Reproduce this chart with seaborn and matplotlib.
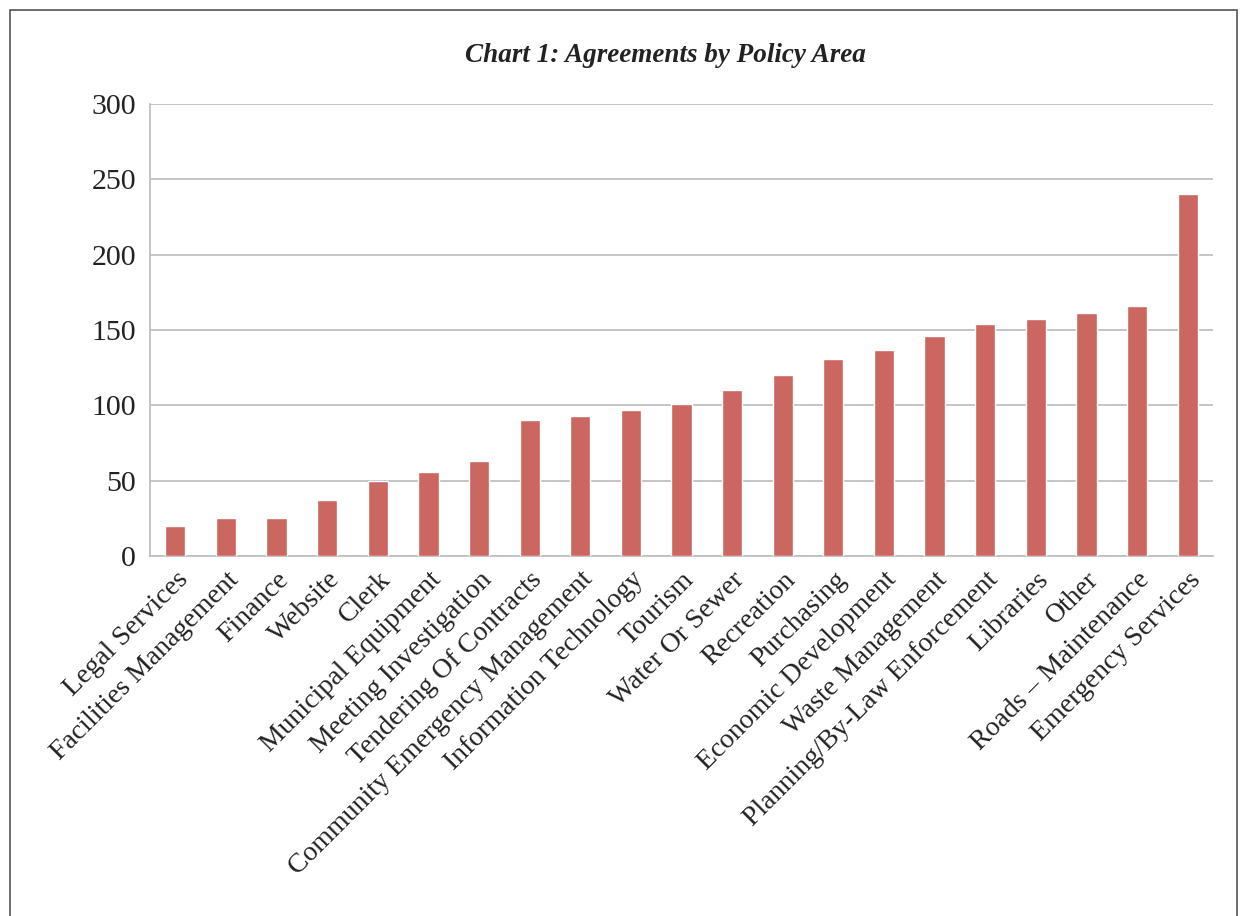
import pandas as pd
import numpy as np
from matplotlib import pyplot as plt
import matplotlib.patches as mpatches
import seaborn as sns

categories = ['Legal Services', 'Facilities Management', 'Finance', 'Website', 'Clerk',
              'Municipal Equipment', 'Meeting Investigation', 'Tendering Of Contracts',
              'Community Emergency Management', 'Information Technology', 'Tourism',
              'Water Or Sewer', 'Recreation', 'Purchasing', 'Economic Development',
              'Waste Management', 'Planning/By-Law Enforcement', 'Libraries', 'Other',
              'Roads \u2013 Maintenance', 'Emergency Services']
agreements = [20, 25, 25, 37, 50, 56, 63, 90, 93, 97, 101, 110, 120, 131, 137,
              146, 154, 157, 161, 166, 240]
yticks = [0, 50, 100, 150, 200, 250, 300]

df = pd.DataFrame({'area': categories, 'n': agreements})

sns.set_style('white')
plt.rcParams['font.family'] = ['Liberation Serif', 'DejaVu Serif']

fig = plt.figure(figsize=(12.46, 9.16), dpi=100)
ax = fig.add_axes([150/1246, 1-556/916, (1213-150)/1246, (556-104)/916])

sns.barplot(data=df, x='area', y='n', color='#CB6661', width=0.4, saturation=1,
            ax=ax, zorder=3)

ax.set_ylim(0, 300)
ax.set_xlim(-0.5, len(categories) - 0.5)
ax.set_yticks(yticks)
ax.set_yticklabels([str(v) for v in yticks], fontsize=21.5, color='#222222')
ax.yaxis.grid(True, color='#BFBFBF', linewidth=1.3, zorder=0)
ax.set_xlabel('')
ax.set_ylabel('')

ax.set_xticks(range(len(categories)))
ax.set_xticklabels(categories, rotation=45, ha='right', rotation_mode='anchor',
                   fontsize=20, color='#222222')
ax.tick_params(axis='x', length=0, pad=8)
ax.set_xticks(np.arange(-0.5, len(categories), 1), minor=True)
ax.tick_params(axis='x', which='minor', length=6, color='#BFBFBF', width=1.3)
ax.tick_params(axis='y', length=6, color='#BFBFBF', width=1.3, pad=4)

for s in ['top', 'right']:
    ax.spines[s].set_visible(False)
for s in ['left', 'bottom']:
    ax.spines[s].set_color('#BFBFBF')
    ax.spines[s].set_linewidth(1.3)

fig.text(665/1246, 1-56/916, 'Chart 1: Agreements by Policy Area', ha='center', va='center',
         fontsize=19.5, fontweight='bold', fontstyle='italic', color='#222222')

fig.patches.append(mpatches.Rectangle((10/1246, -0.05), 1227/1246, 1.05 - 10/916,
                                      transform=fig.transFigure, fill=False,
                                      edgecolor='#555555', linewidth=1.2))

fig.savefig('out.png', dpi=100)
